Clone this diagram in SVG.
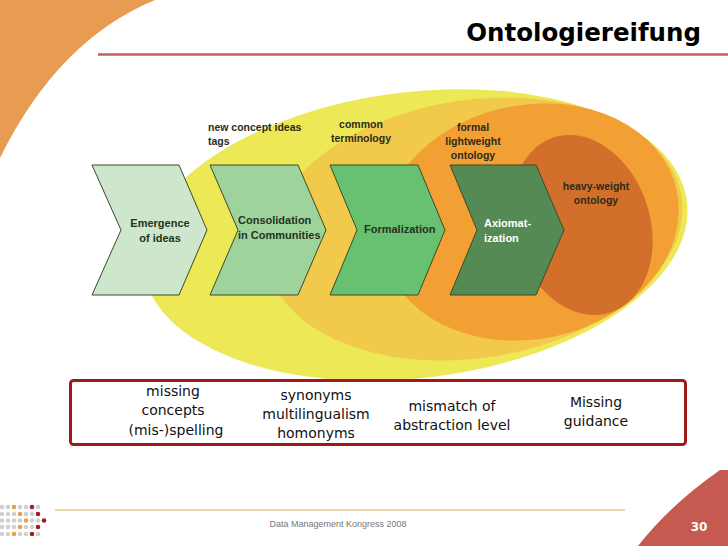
<svg xmlns="http://www.w3.org/2000/svg" width="728" height="546" viewBox="0 0 728 546">
<style>
.chev{stroke:#3b4a28;stroke-width:1}
.lbl{font-family:"Liberation Sans",Arial,sans-serif;font-weight:bold;font-size:10.5px;fill:#2b2b1c}
.ct{font-family:"Liberation Sans",Arial,sans-serif;font-weight:bold;font-size:11px;fill:#24331c}
.bt{font-family:"DejaVu Sans",Verdana,sans-serif;font-size:14px;fill:#111}
.dg{fill:#cfcfd4}
.do{fill:#e8a040}
.dr{fill:#a02020}
</style>
<rect width="728" height="546" fill="#fff"/>
<path d="M0 0 H155 Q58 40 0 158 Z" fill="#e89c52"/>
<line x1="98" y1="54.5" x2="728" y2="54.5" stroke="#c0605a" stroke-width="2.5"/>
<text x="701" y="41" text-anchor="end" font-family="DejaVu Sans,Verdana,sans-serif" font-weight="bold" font-size="24.5" fill="#000">Ontologiereifung</text>

<g id="ellipses">
<ellipse cx="415" cy="235" rx="274" ry="143" transform="rotate(-7 415 235)" fill="#ede855"/>
<ellipse cx="474" cy="229" rx="210" ry="129" transform="rotate(-9 474 229)" fill="#f1c94b"/>
<ellipse cx="530" cy="222" rx="150" ry="117" transform="rotate(-12 530 222)" fill="#f29f33"/>
<ellipse cx="582" cy="225" rx="68" ry="92" transform="rotate(-18 582 225)" fill="#d2702b"/>
</g>

<g id="labels-top">
<text class="lbl" x="208" y="131">new concept ideas</text>
<text class="lbl" x="208" y="145">tags</text>
<text class="lbl" x="361" y="128" text-anchor="middle">common</text>
<text class="lbl" x="361" y="142" text-anchor="middle">terminology</text>
<text class="lbl" x="473" y="131" text-anchor="middle">formal</text>
<text class="lbl" x="473" y="145" text-anchor="middle">lightweight</text>
<text class="lbl" x="473" y="159" text-anchor="middle">ontology</text>
<text class="lbl" x="596" y="190" text-anchor="middle">heavy-weight</text>
<text class="lbl" x="596" y="204" text-anchor="middle">ontology</text>
</g>

<g id="chevron1">
<polygon class="chev" points="92,165 179,165 207,230 179,295 92,295 121,230" fill="#cde6cc"/>
<text class="ct" x="160" y="227" text-anchor="middle">Emergence</text>
<text class="ct" x="160" y="242" text-anchor="middle">of ideas</text>
</g>
<g id="chevron2">
<polygon class="chev" points="210,165 298,165 326,230 298,295 210,295 238,230" fill="#9fd39c"/>
<text class="ct" x="238" y="224">Consolidation</text>
<text class="ct" x="238" y="239">in Communities</text>
</g>
<g id="chevron3">
<polygon class="chev" points="330,165 418,165 445,230 418,295 330,295 357,230" fill="#68c071"/>
<text class="ct" x="364" y="233">Formalization</text>
</g>
<g id="chevron4">
<polygon class="chev" points="450,165 536,165 564,230 536,295 450,295 477,230" fill="#568a55"/>
<text class="ct" x="484" y="227" style="fill:#fff">Axiomat-</text>
<text class="ct" x="484" y="242" style="fill:#fff">ization</text>
</g>

<g id="problems">
<rect x="70.5" y="380.5" width="615" height="64" rx="3" fill="#fff" stroke="#a01a1a" stroke-width="3"/>
<text class="bt" x="173" y="396" text-anchor="middle">missing</text>
<text class="bt" x="173" y="415" text-anchor="middle">concepts</text>
<text class="bt" x="176" y="435" text-anchor="middle">(mis-)spelling</text>
<text class="bt" x="316" y="400" text-anchor="middle">synonyms</text>
<text class="bt" x="316" y="419" text-anchor="middle">multilingualism</text>
<text class="bt" x="316" y="438" text-anchor="middle">homonyms</text>
<text class="bt" x="452" y="411" text-anchor="middle">mismatch of</text>
<text class="bt" x="452" y="430" text-anchor="middle">abstraction level</text>
<text class="bt" x="596" y="407" text-anchor="middle">Missing</text>
<text class="bt" x="596" y="426" text-anchor="middle">guidance</text>
</g>

<g id="footer">
<line x1="55" y1="510" x2="625" y2="510" stroke="#e0b060" stroke-width="1"/>
<text x="338" y="527" text-anchor="middle" font-family="Liberation Sans,Arial,sans-serif" font-size="9" fill="#777">Data Management Kongress 2008</text>
<path d="M720 470 Q670 505 638 546 L728 546 L728 470 Z" fill="#c65a50"/>
<text x="699" y="531" text-anchor="middle" font-family="DejaVu Sans,Verdana,sans-serif" font-weight="bold" font-size="12" fill="#fff">30</text>
<g id="dots">
<circle class="dg" cx="2" cy="507" r="2.3"/><circle class="dg" cx="8" cy="507" r="2.3"/><circle class="do" cx="14" cy="507" r="2.3"/><circle class="dg" cx="20" cy="507" r="2.3"/><circle class="dg" cx="26" cy="507" r="2.3"/><circle class="dr" cx="32" cy="507" r="2.3"/><circle class="dg" cx="38" cy="507" r="2.3"/>
<circle class="dg" cx="2" cy="514" r="2.3"/><circle class="dg" cx="8" cy="514" r="2.3"/><circle class="dg" cx="14" cy="514" r="2.3"/><circle class="do" cx="20" cy="514" r="2.3"/><circle class="dg" cx="26" cy="514" r="2.3"/><circle class="dg" cx="32" cy="514" r="2.3"/><circle class="dr" cx="38" cy="514" r="2.3"/>
<circle class="dg" cx="2" cy="520.5" r="2.3"/><circle class="dg" cx="8" cy="520.5" r="2.3"/><circle class="dg" cx="14" cy="520.5" r="2.3"/><circle class="dg" cx="20" cy="520.5" r="2.3"/><circle class="do" cx="26" cy="520.5" r="2.3"/><circle class="dg" cx="32" cy="520.5" r="2.3"/><circle class="dg" cx="38" cy="520.5" r="2.3"/><circle class="dr" cx="44" cy="520.5" r="2.3"/>
<circle class="dg" cx="2" cy="527" r="2.3"/><circle class="dg" cx="8" cy="527" r="2.3"/><circle class="dg" cx="14" cy="527" r="2.3"/><circle class="do" cx="20" cy="527" r="2.3"/><circle class="dg" cx="26" cy="527" r="2.3"/><circle class="dg" cx="32" cy="527" r="2.3"/><circle class="dr" cx="38" cy="527" r="2.3"/>
<circle class="dg" cx="2" cy="534" r="2.3"/><circle class="dg" cx="8" cy="534" r="2.3"/><circle class="do" cx="14" cy="534" r="2.3"/><circle class="dg" cx="20" cy="534" r="2.3"/><circle class="dg" cx="26" cy="534" r="2.3"/><circle class="dr" cx="32" cy="534" r="2.3"/><circle class="dg" cx="38" cy="534" r="2.3"/>
</g>
</g>
</svg>
